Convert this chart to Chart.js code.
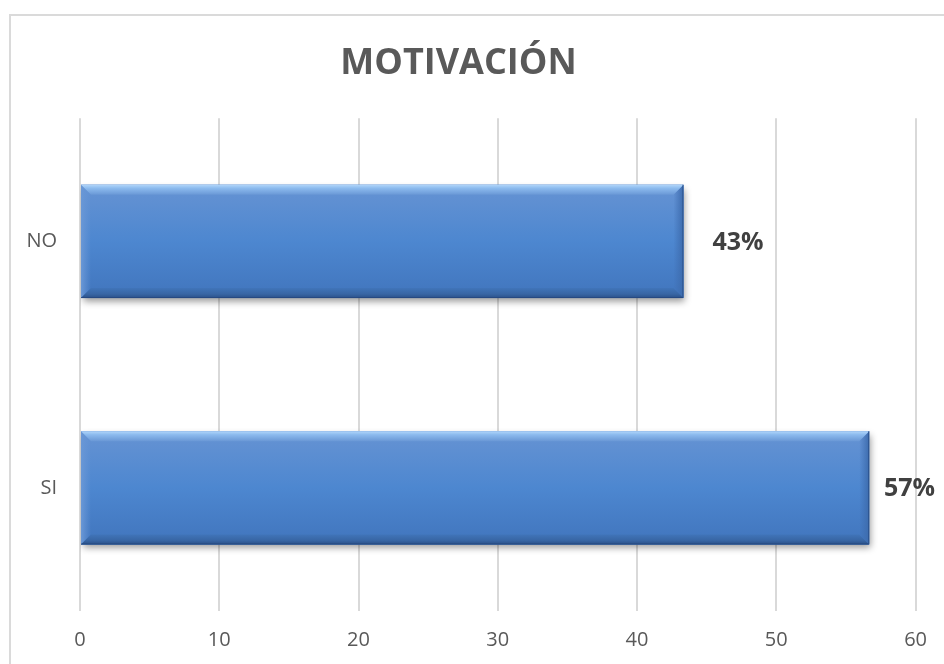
<!DOCTYPE html>
<html>
<head>
<meta charset="utf-8">
<title>MOTIVACIÓN</title>
<script src="https://cdn.jsdelivr.net/npm/chart.js@4/dist/chart.umd.min.js"></script>
<style>
  html, body { margin: 0; padding: 0; background: #fff; }
  #chart { display: block; }
</style>
</head>
<body>
<canvas id="chart" width="944" height="664"></canvas>
<script>
const categories = ['NO', 'SI'];
const values = [43.33, 56.67];
const xMin = 0;
const xMax = 60;
const xStep = 10;

const grey = '#595959';

Chart.defaults.font.family = "'Open Sans', sans-serif";
Chart.defaults.color = grey;

// thin frame around the whole chart
const frame = {
  id: 'frame',
  beforeDraw(chart) {
    const ctx = chart.ctx;
    ctx.save();
    ctx.fillStyle = '#fff';
    ctx.fillRect(0, 0, chart.width, chart.height);
    ctx.fillStyle = '#dadada';
    ctx.fillRect(9, 14, 2, chart.height);
    ctx.fillRect(9, 14, chart.width, 2);
    ctx.restore();
  }
};

function poly(ctx, pts, fill) {
  ctx.beginPath();
  ctx.moveTo(pts[0][0], pts[0][1]);
  for (let i = 1; i < pts.length; i++) ctx.lineTo(pts[i][0], pts[i][1]);
  ctx.closePath();
  ctx.fillStyle = fill;
  ctx.fill();
}

// bevelled blue bars with a soft shadow, plus the percentage labels
const bevelBars = {
  id: 'bevelBars',
  beforeDatasetDraw(chart) {
    const ctx = chart.ctx;
    ctx.save();
    ctx.shadowColor = 'rgba(0,0,0,0.4)';
    ctx.shadowBlur = 7;
    ctx.shadowOffsetX = 2;
    ctx.shadowOffsetY = 4;
  },
  afterDatasetDraw(chart, args) {
    const ctx = chart.ctx;
    ctx.restore();
    const meta = args.meta;
    meta.data.forEach((bar) => {
      const p = bar.getProps(['x', 'y', 'base', 'height'], true);
      const l = Math.min(p.base, p.x), r = Math.max(p.base, p.x);
      const t = p.y - p.height / 2, btm = p.y + p.height / 2;
      const b = 10;
      ctx.save();

      let g = ctx.createLinearGradient(0, t, 0, btm);
      g.addColorStop(0, '#6693d3');
      g.addColorStop(0.5, '#4d87d0');
      g.addColorStop(1, '#4175bd');
      ctx.fillStyle = g;
      ctx.fillRect(l, t, r - l, btm - t);

      // left side
      g = ctx.createLinearGradient(l, 0, l + b, 0);
      g.addColorStop(0, '#6a98d6');
      g.addColorStop(1, 'rgba(100,148,214,0)');
      poly(ctx, [[l, t], [l + b, t + b], [l + b, btm - b], [l, btm]], g);

      // right side
      g = ctx.createLinearGradient(r - b, 0, r, 0);
      g.addColorStop(0, 'rgba(62,108,176,0)');
      g.addColorStop(1, '#3d6cad');
      poly(ctx, [[r, t], [r, btm], [r - b, btm - b], [r - b, t + b]], g);

      // top edge highlight
      g = ctx.createLinearGradient(0, t, 0, t + b);
      g.addColorStop(0, '#b2d6fa');
      g.addColorStop(0.35, '#8cbbee');
      g.addColorStop(1, '#6a98d6');
      poly(ctx, [[l, t], [r, t], [r - b, t + b], [l + b, t + b]], g);

      // bottom edge shade
      g = ctx.createLinearGradient(0, btm - b, 0, btm);
      g.addColorStop(0, '#4074b9');
      g.addColorStop(0.6, '#3866a4');
      g.addColorStop(1, '#2a5088');
      poly(ctx, [[l, btm], [l + b, btm - b], [r - b, btm - b], [r, btm]], g);

      ctx.strokeStyle = 'rgba(35,70,125,0.7)';
      ctx.lineWidth = 1;
      ctx.beginPath();
      ctx.moveTo(r - 0.5, t);
      ctx.lineTo(r - 0.5, btm - 0.5);
      ctx.lineTo(l, btm - 0.5);
      ctx.stroke();

      ctx.restore();
    });
  },
  afterDatasetsDraw(chart) {
    const ctx = chart.ctx;
    const meta = chart.getDatasetMeta(0);
    ctx.save();
    ctx.font = "bold 25px 'Open Sans', sans-serif";
    ctx.fillStyle = '#404040';
    ctx.textAlign = 'left';
    ctx.textBaseline = 'middle';
    meta.data.forEach((bar, i) => {
      const text = Math.round(values[i]) + '%';
      // keep the label inside the frame when the bar runs long
      const maxX = chart.width - 9 - ctx.measureText(text).width;
      ctx.fillText(text, Math.min(bar.x + 29, maxX), bar.y + 1);
    });
    ctx.restore();
  }
};

new Chart(document.getElementById('chart'), {
  type: 'bar',
  data: {
    labels: categories,
    datasets: [{
      data: values,
      backgroundColor: '#4f88d0',
      borderWidth: 0,
      barPercentage: 0.46,
      categoryPercentage: 1
    }]
  },
  options: {
    indexAxis: 'y',
    responsive: false,
    animation: false,
    events: [],
    layout: { padding: { left: 0, right: 27, top: 0, bottom: 0 } },
    plugins: {
      legend: { display: false },
      tooltip: { enabled: false },
      title: {
        display: true,
        text: 'MOTIVACIÓN',
        color: grey,
        font: { size: 36, weight: 'bold' },
        padding: { top: 42, bottom: 33 }
      }
    },
    scales: {
      x: {
        min: xMin,
        max: xMax,
        ticks: { stepSize: xStep, padding: 17, font: { size: 20 }, color: grey },
        grid: { color: '#d9d9d9', lineWidth: 2, drawTicks: false },
        border: { display: false },
        afterFit(scale) { scale.height = 53; }
      },
      y: {
        ticks: { padding: 23, font: { size: 20 }, color: grey },
        grid: { display: false, drawTicks: false },
        border: { display: false },
        afterFit(scale) { scale.width = 80; }
      }
    }
  },
  plugins: [frame, bevelBars]
});
</script>
</body>
</html>
